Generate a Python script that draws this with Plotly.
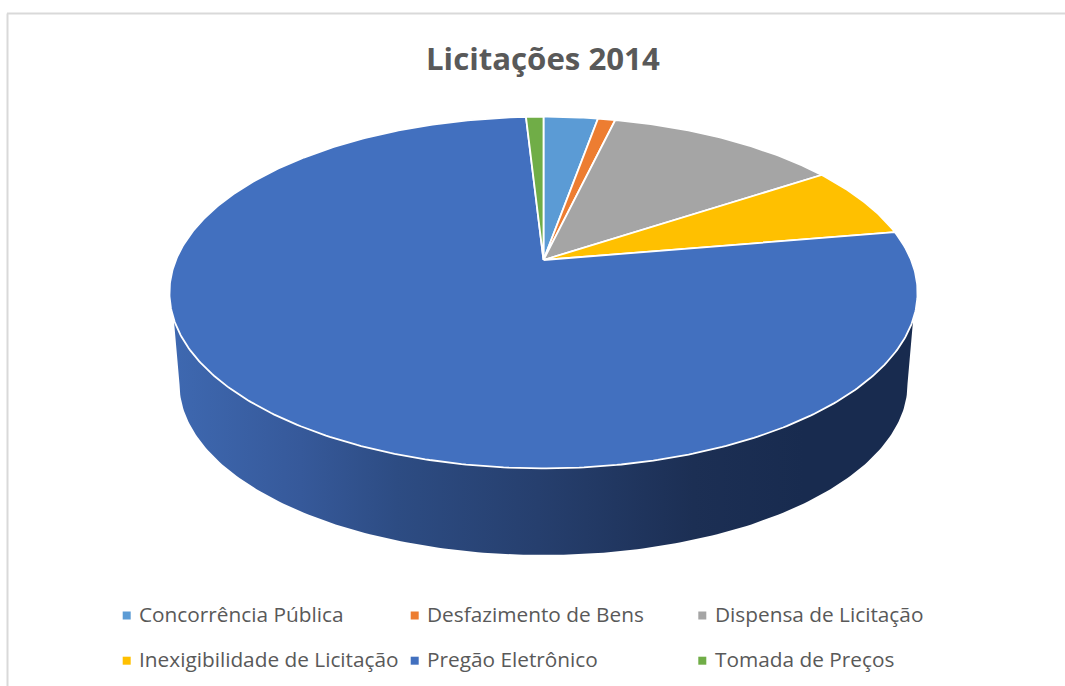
import numpy as np
import plotly.graph_objects as go

TITLE = "Licitações 2014"
categories = ["Concorrência Pública", "Desfazimento de Bens", "Dispensa de Licitação",
              "Inexigibilidade de Licitação", "Pregão Eletrônico", "Tomada de Preços"]
values = [2.8, 0.9, 12.0, 6.6, 76.8, 0.9]
colors = ["#5B9BD5", "#ED7D31", "#A5A5A5", "#FFC000", "#4270BF", "#70AD47"]

# projection of the pie disc on the page (axis units = pixels)
APEX_X, APEX_Y = 543.5, 260.0
A, B, K = 367.6, 169.8, 0.185


def project(theta):
    u, v = np.sin(theta), np.cos(theta)
    w = 1 + K * v
    return APEX_X + A * u / w, APEX_Y - B * v / w


fig = go.Figure()

# side wall
tx, ty = 543.5, 292.5
t = np.radians(np.linspace(8, 172, 200))
bt = np.radians(np.linspace(180, 0, 200))
sx = np.r_[tx + 373.5 * np.cos(t), tx + 364 * np.cos(bt)]
sy = np.r_[ty + 175.5 * np.sin(t), 384 + 171 * np.sin(bt)]
fig.add_trace(go.Scatter(
    x=sx, y=sy, mode="lines", fill="toself", line=dict(width=0), hoverinfo="skip",
    fillgradient=dict(type="horizontal", start=175, stop=915, colorscale=[
        [0.0, "#3E68B0"], [0.17, "#36599A"], [0.30, "#2D4C83"], [0.49, "#263F6E"],
        [0.70, "#1C2F54"], [0.85, "#182B4F"], [1.0, "#182B4F"]]),
    showlegend=False))

# top face wedges, clockwise from twelve o'clock
edges = np.r_[0, np.cumsum(values)] / np.sum(values) * 2 * np.pi
for i, (name, color) in enumerate(zip(categories, colors)):
    th = np.linspace(edges[i], edges[i + 1], max(int(values[i] * 6), 8))
    ax, ay = project(th)
    fig.add_trace(go.Scatter(
        x=np.r_[APEX_X, ax, APEX_X], y=np.r_[APEX_Y, ay, APEX_Y], mode="lines",
        fill="toself", fillcolor=color, line=dict(color="white", width=1.8),
        name=name, text=f"{name}: {values[i]}", hoverinfo="text", showlegend=False))

# legend
col_x = [126.7, 414.7, 702.3]
row_y = [615.5, 660.7]
annotations = []
for i, (name, color) in enumerate(zip(categories, colors)):
    lx, ly = col_x[i % 3], row_y[i // 3]
    fig.add_trace(go.Scatter(x=[lx], y=[ly], mode="markers", hoverinfo="skip", showlegend=False,
                             marker=dict(symbol="square", size=8, color=color, line=dict(width=0))))
    annotations.append(dict(x=lx + 10.2, y=ly - 1.5, text=name, showarrow=False, xanchor="left", yanchor="middle",
                            font=dict(family="Open Sans", size=20.8, color="#595959")))

annotations.append(dict(x=543, y=58, text=f"<b>{TITLE}</b>", showarrow=False, xanchor="center", yanchor="middle",
                        font=dict(family="Open Sans", size=31.2, color="#595959")))

frame = dict(type="line", line=dict(color="#D9D9D9", width=2), layer="below")
fig.update_layout(
    width=1065, height=686, margin=dict(l=0, r=0, t=0, b=0),
    paper_bgcolor="white", plot_bgcolor="white", showlegend=False,
    xaxis=dict(range=[0, 1065], visible=False, fixedrange=True),
    yaxis=dict(range=[686, 0], visible=False, fixedrange=True),
    annotations=annotations,
    shapes=[dict(frame, x0=7.5, x1=7.5, y0=13.5, y1=686),
            dict(frame, x0=7, x1=1065, y0=13.5, y1=13.5)],
)
fig.write_html("out.html", config=dict(displayModeBar=False),
               post_script="document.body.style.margin='0';document.documentElement.style.overflow='hidden';")
